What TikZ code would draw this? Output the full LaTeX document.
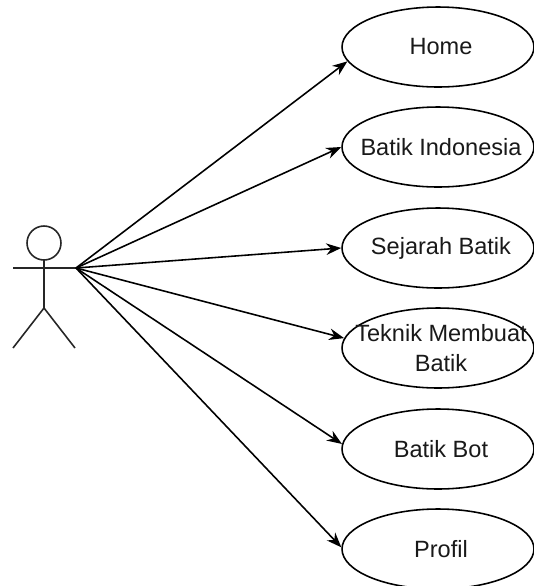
\documentclass[tikz,border=0pt]{standalone}
\usepackage{fontspec}
\setmainfont{Liberation Sans}
\usetikzlibrary{arrows.meta,shapes.geometric}

\begin{document}
\begin{tikzpicture}[
  x=0.02cm,
  y=-0.02cm,
  >={Stealth[length=0.3cm,width=0.23cm]},
  line width=0.9pt,
  every node/.style={font=\fontsize{13.4}{17}\selectfont},
  usecase node/.style={ellipse,draw,minimum width=3.84cm,minimum height=1.6cm,inner sep=0pt,fill=white},
  usecase text/.style={align=center,inner sep=0pt,text=black!90,xshift=0.06cm},
  actor line/.style={line width=0.9pt,draw=black!85},
]
\useasboundingbox (0,0) rectangle (534,586);
% actor
\draw[actor line] (44,243) circle[radius=0.34cm];
\draw[actor line] (44,260) -- (44,308);
\draw[actor line] (13,268) -- (76,268);
\draw[actor line] (13,348) -- (44,308) -- (75,348);
\coordinate (hand) at (76,268);
% use cases
\node[usecase node] (home) at (438,47) {};
\node[usecase node] (indo) at (438,147) {};
\node[usecase node] (sejarah) at (438,248) {};
\node[usecase node] (teknik) at (438,348) {};
\node[usecase node] (bot) at (438,449) {};
\node[usecase node] (profil) at (438,549) {};
\node[usecase text] (homeT) at (home) {Home};
\node[usecase text] (indoT) at (indo) {Batik Indonesia};
\node[usecase text] (sejarahT) at (sejarah) {Sejarah Batik};
\node[usecase text] (teknikT) at (teknik) {Teknik Membuat\\Batik};
\node[usecase text] (botT) at (bot) {Batik Bot};
\node[usecase text] (profilT) at (profil) {Profil};
% associations
\draw[->] (hand) -- (home.189);
\draw[->] (hand) -- (indo.west);
\draw[->] (hand) -- (sejarah.west);
\draw[->] (hand) -- (teknik.174);
\draw[->] (hand) -- (bot.177);
\draw[->] (hand) -- (profil.179);
\end{tikzpicture}
\end{document}
